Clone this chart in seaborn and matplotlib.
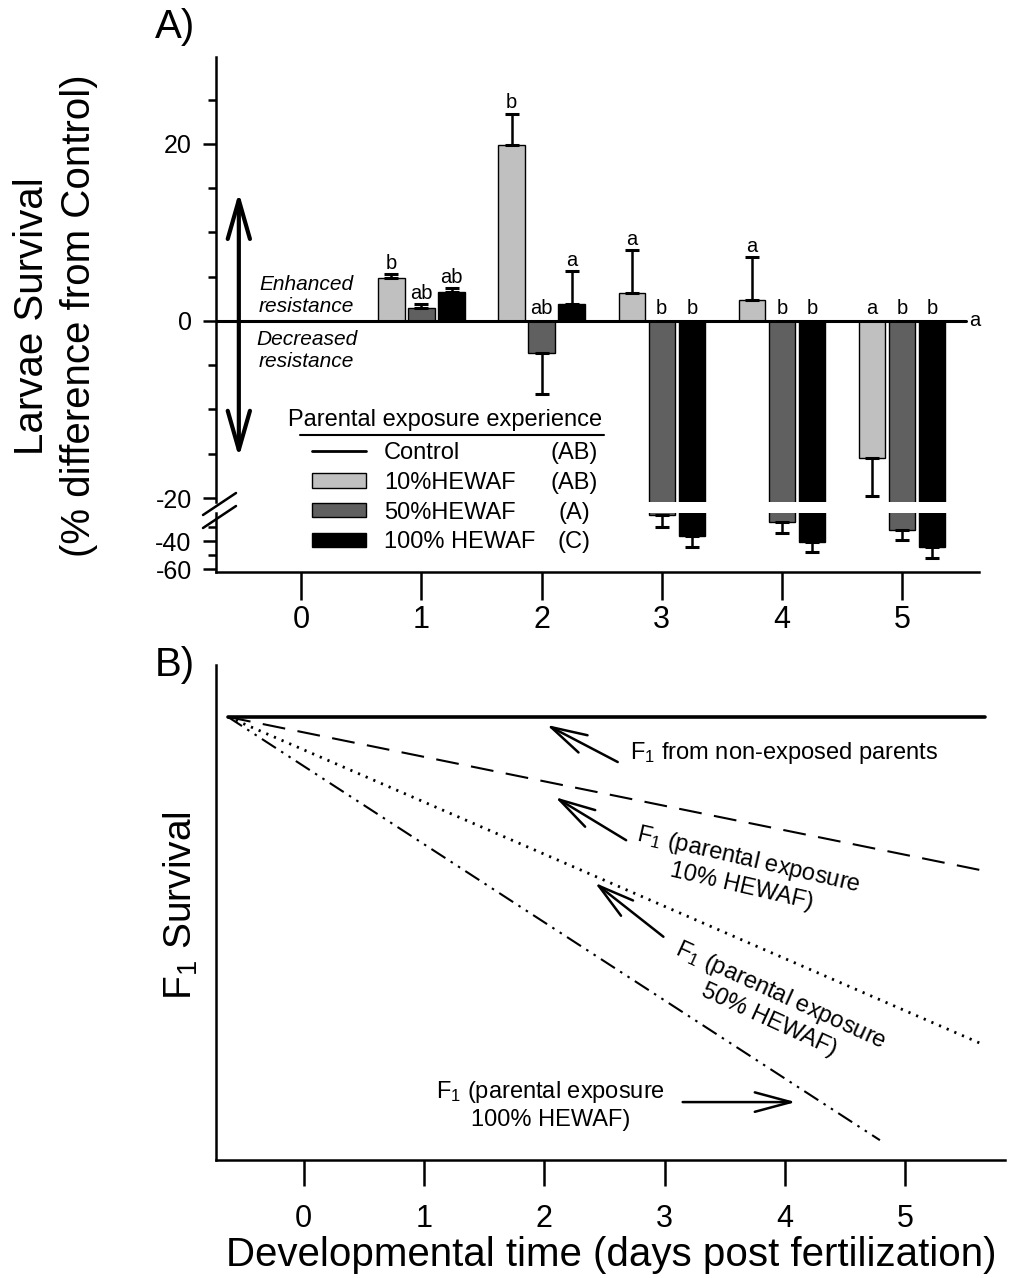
# -*- coding: utf-8 -*-
import numpy as np
import pandas as pd
import seaborn as sns
import matplotlib.pyplot as plt
from matplotlib.lines import Line2D
from matplotlib.patches import Patch

sns.set_style('ticks')
plt.rcParams['font.family'] = ['Liberation Sans', 'DejaVu Sans']
plt.rcParams['mathtext.fontset'] = 'custom'
plt.rcParams['mathtext.rm'] = 'Liberation Sans'
plt.rcParams['mathtext.it'] = 'Liberation Sans:italic'
for k in ['text.color', 'axes.edgecolor', 'axes.labelcolor', 'xtick.color', 'ytick.color']:
    plt.rcParams[k] = 'black'

#%% panel A data (% difference from control)
days = [1, 2, 3, 4, 5]
groups = ['10%HEWAF', '50%HEWAF', '100% HEWAF']
diff_10 = [4.9, 19.9, 3.1, 2.4, -15.5]
diff_50 = [1.5, -3.6, -21.5, -26.2, -32.1]
diff_100 = [3.3, 1.9, -36.4, -40.5, -44.5]
err_10 = [0.4, 3.5, 4.9, 4.8, 4.3]
err_50 = [0.4, 4.7, 8.5, 8.3, 7.2]
err_100 = [0.4, 3.7, 8.1, 7.1, 7.4]
sig_10 = ['b', 'b', 'a', 'a', 'a']
sig_50 = ['ab', 'ab', 'b', 'b', 'b']
sig_100 = ['ab', 'a', 'b', 'b', 'b']
control_diff = 0
control_sig = 'a'
legend_labels = ['Control', '10%HEWAF', '50%HEWAF', '100% HEWAF']
legend_sig = ['(AB)', '(AB)', '(A)', '(C)']
colors = ['#c0c0c0', '#606060', '#000000']

#%% panel B data (conceptual survival curves)
curve_names = ['non-exposed', '10%', '50%', '100%']
curve_day = [[-0.63, 5.66], [-0.63, 5.66], [-0.63, 5.66], [-0.63, 4.79]]
curve_surv = [[89.5, 89.5], [89.5, 58.4], [89.5, 23.2], [89.5, 4.0]]

dfA = pd.DataFrame({'day': days * 3,
                    'diff': diff_10 + diff_50 + diff_100,
                    'group': np.repeat(groups, len(days))})
dfB = pd.DataFrame({'day': sum(curve_day, []),
                    'surv': sum(curve_surv, []),
                    'curve': np.repeat(curve_names, 2)})

#%% figure
W, H = 1016, 1278
fig = plt.figure(figsize=(W / 100, H / 100), dpi=100)


def box(l, t, r, b):
    return [l / W, 1 - b / H, (r - l) / W, (b - t) / H]


axU = fig.add_axes(box(216, 57, 979, 502))
axL = fig.add_axes(box(216, 513, 979, 572), sharex=axU)
axB = fig.add_axes(box(216, 665, 1005, 1160))
for ax in (axU, axL, axB):
    ax.patch.set_visible(False)
    for s in ax.spines.values():
        s.set_linewidth(1.8)

axU.set_ylim(-20.45, 29.8)
axL.set_ylim(-62.1, -20)

for ax in (axU, axL):
    lo, hi = ax.get_ylim()
    sns.barplot(data=dfA, x='day', y='diff', hue='group', hue_order=groups,
                palette=colors, native_scale=True, width=0.75, gap=0.12,
                edgecolor='black', linewidth=1, errorbar=None, legend=False, ax=ax)
    for cont, errs in zip(ax.containers, [err_10, err_50, err_100]):
        for bar, e in zip(cont, errs):
            x = bar.get_x() + bar.get_width() / 2
            v = bar.get_y() + bar.get_height()
            end = v + e if v >= 0 else v - e
            if not lo <= end <= hi:
                continue
            yerr = [[0], [e]] if v >= 0 else [[e], [0]]
            ax.errorbar(x, v, yerr=yerr, fmt='none', ecolor='black',
                        elinewidth=1.8, capsize=5, capthick=2.2)
    ax.set_xlabel('')
    ax.set_ylabel('')
    ax.set_ylim(lo, hi)

# significance letters
for cont, errs, sigs in zip(axU.containers, [err_10, err_50, err_100], [sig_10, sig_50, sig_100]):
    for bar, e, s in zip(cont, errs, sigs):
        x = bar.get_x() + bar.get_width() / 2
        v = bar.get_y() + bar.get_height()
        y = v + e + 0.6 if v > 0 else 0.8
        axU.text(x, y, s, ha='center', va='baseline', fontsize=14.5)

axU.axhline(control_diff, xmin=0, xmax=0.983, color='black', lw=2.2, zorder=3)
axU.text(5.56, control_diff, control_sig, ha='left', va='center', fontsize=14.5)

axU.set_xlim(-0.71, 5.64)
axU.set_yticks([-20, 0, 20])
axU.set_yticklabels(['-20', '0', '20'])
axU.set_yticks(np.arange(-15, 30, 5), minor=True)
axU.spines[['top', 'right', 'bottom']].set_visible(False)
axU.tick_params(axis='x', which='both', bottom=False, labelbottom=False)
axU.tick_params(axis='y', which='major', length=9.5, width=1.8, labelsize=18, pad=8)
axU.tick_params(axis='y', which='minor', length=6, width=1.8)

axL.set_yticks([-40, -60])
axL.set_yticklabels(['-40', '-60'])
axL.set_yticks([-30, -50], minor=True)
axL.spines[['top', 'right']].set_visible(False)
axL.set_xticks(range(6))
axL.tick_params(axis='x', length=20, width=1.8, labelsize=22, pad=4)
axL.tick_params(axis='y', which='major', length=9.5, width=1.8, labelsize=18, pad=8)
axL.tick_params(axis='y', which='minor', length=6, width=1.8)

# double arrow + resistance notes
axU.annotate('', xy=(-0.52, 14.5), xytext=(-0.52, -15.4),
             arrowprops=dict(arrowstyle='<->,head_length=2.8,head_width=0.8', lw=3,
                             color='black', shrinkA=0, shrinkB=0, mutation_scale=10))
axU.text(0.045, 2.9, 'Enhanced\nresistance', style='italic', fontsize=15,
         ha='center', va='center', multialignment='center')
axU.text(0.045, -3.3, 'Decreased\nresistance', style='italic', fontsize=15,
         ha='center', va='center', multialignment='center')

# legend (title and rule drawn separately)
handles = [Line2D([], [], color='black', lw=2)] + \
          [Patch(facecolor=c, edgecolor='black', lw=1) for c in colors]
leg = axU.legend(handles, legend_labels, loc='upper left',
                 bbox_to_anchor=(312 / W, 1 - 442 / H),
                 bbox_transform=fig.transFigure, frameon=False, fontsize=17,
                 handlelength=2.3, handleheight=0.55,
                 handletextpad=0.75, labelspacing=0.33, borderpad=0, borderaxespad=0)
fig.text(445 / W, 1 - 420 / H, 'Parental exposure experience', ha='center',
         va='center', fontsize=17)
fig.add_artist(Line2D([300 / W, 604 / W], [1 - 435 / H] * 2, color='black', lw=1.5))

# axis break marks
for y0 in (515, 528):
    fig.add_artist(Line2D([203 / W, 236 / W], [1 - y0 / H, 1 - (y0 - 22) / H],
                          color='black', lw=1.8))

#%% panel B
dash_map = {'non-exposed': '', '10%': (11, 6), '50%': (0.8, 2.2),
            '100%': (8, 3, 1.2, 3, 1.2, 3)}
sns.lineplot(data=dfB, x='day', y='surv', style='curve', style_order=curve_names,
             dashes=dash_map, color='black', lw=1.5, estimator=None,
             legend=False, ax=axB)
axB.lines[0].set_linewidth(2.6)
axB.lines[2].set_linewidth(2.0)
axB.set_xlim(-0.73, 5.83)
axB.set_ylim(0, 100)
axB.set_yticks([])
axB.set_xticks(range(6))
axB.spines[['top', 'right']].set_visible(False)
axB.tick_params(axis='x', length=19, width=1.8, labelsize=22, pad=13)
axB.set_xlabel('')
axB.set_ylabel('')

arrow = dict(arrowstyle='->,head_length=2.6,head_width=0.7', lw=1.8, color='black',
             shrinkA=0, shrinkB=0, mutation_scale=10)
axB.annotate('', xy=(2.02, 87.9), xytext=(2.61, 80.4), arrowprops=arrow)
axB.annotate('', xy=(2.09, 73.3), xytext=(2.68, 64.6), arrowprops=arrow)
axB.annotate('', xy=(2.42, 56.0), xytext=(2.99, 45.1), arrowprops=arrow)
axB.annotate('', xy=(4.09, 11.7), xytext=(3.15, 11.7), arrowprops=arrow)

axB.text(2.71, 82.2, r'F$_{\mathit{1}}$ from non-exposed parents', ha='left',
         va='center', fontsize=17)
axB.text(3.67, 58.0, 'F$_{\\mathit{1}}$ (parental exposure\n10% HEWAF)', rotation=-13,
         rotation_mode='anchor', ha='center', va='center', multialignment='center',
         fontsize=17)
axB.text(3.92, 30.9, 'F$_{\\mathit{1}}$ (parental exposure\n50% HEWAF)', rotation=-24.5,
         rotation_mode='anchor', ha='center', va='center', multialignment='center',
         fontsize=17)
axB.text(2.05, 11.1, 'F$_{\\mathit{1}}$ (parental exposure\n100% HEWAF)', ha='center',
         va='center', multialignment='center', fontsize=17)

#%% labels
fig.text(56 / W, 1 - 316 / H, 'Larvae Survival\n(% difference from Control)',
         rotation=90, ha='center', va='center', multialignment='center',
         fontsize=29, linespacing=1.3)
fig.text(181 / W, 1 - 906 / H, r'F$_{\mathrm{1}}$ Survival', rotation=90,
         ha='center', va='center', fontsize=28)
fig.text(611 / W, 1 - 1255 / H, 'Developmental time (days post fertilization)',
         ha='center', va='center', fontsize=29)
fig.text(175 / W, 1 - 27 / H, 'A)', ha='center', va='center', fontsize=29)
fig.text(175 / W, 1 - 665 / H, 'B)', ha='center', va='center', fontsize=29)

# legend group letters, aligned with the rendered legend rows
fig.canvas.draw()
r = fig.canvas.get_renderer()
for txt, s in zip(leg.get_texts(), legend_sig):
    bb = txt.get_window_extent(r)
    fig.text(574 / W, (bb.y0 + bb.y1) / 2 / H, s, ha='center', va='center', fontsize=17)

plt.savefig('out.png', dpi=100)
